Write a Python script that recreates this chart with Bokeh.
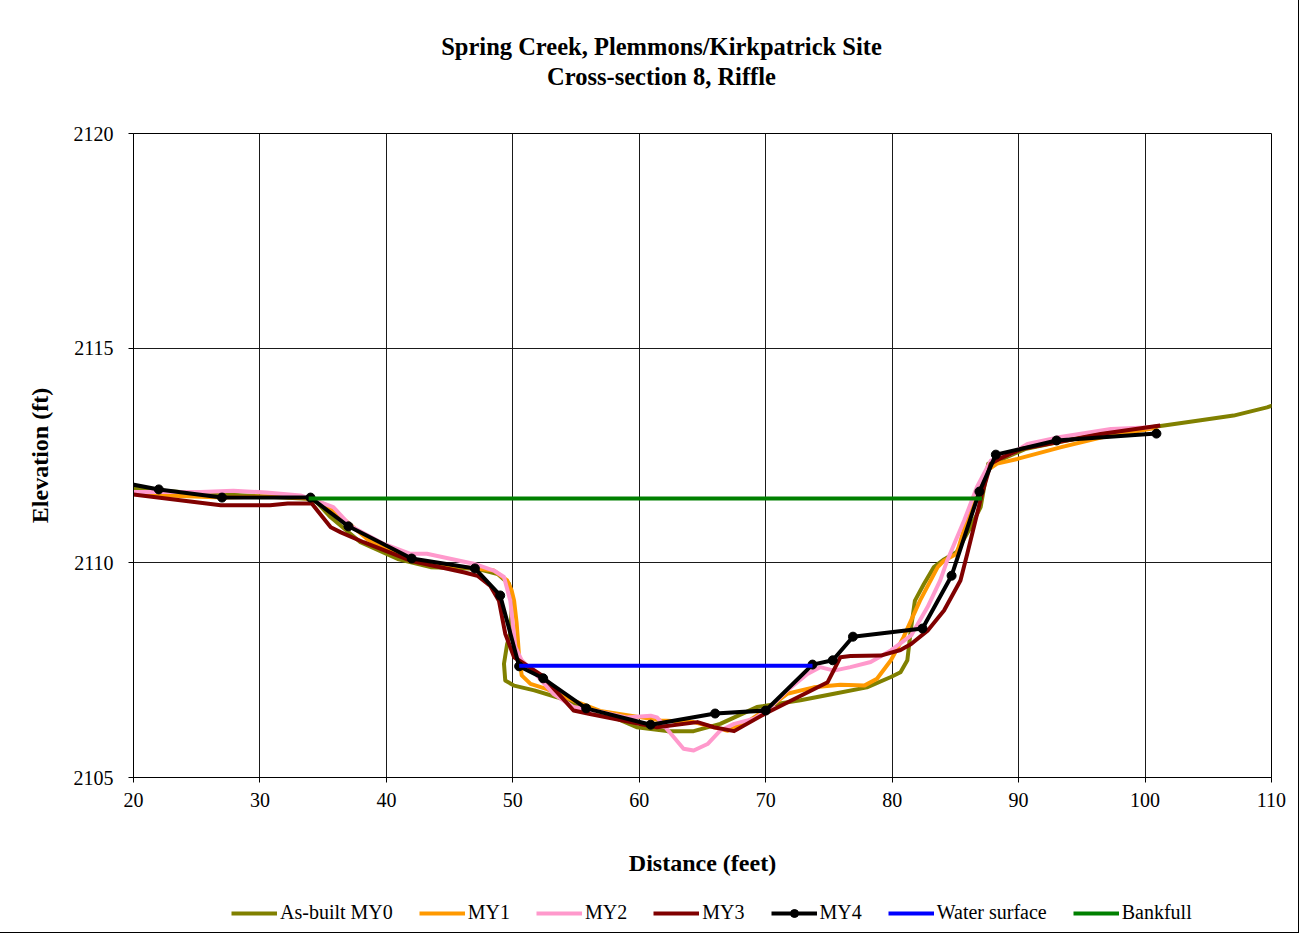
from bokeh.plotting import figure
from bokeh.layouts import column
from bokeh.models import Legend, LegendItem, FixedTicker, Range1d
from bokeh.core.properties import value
from bokeh.embed import file_html
from bokeh.resources import INLINE

# ---------------- data ----------------
title_lines = ["Spring Creek, Plemmons/Kirkpatrick Site", "Cross-section 8, Riffle"]
x_label = "Distance (feet)"
y_label = "Elevation (ft)"
x_ticks = [20, 30, 40, 50, 60, 70, 80, 90, 100, 110]
y_ticks = [2105, 2110, 2115, 2120]

my0_x = [20, 25, 30, 33.7, 34.5, 35.6, 37.95, 40.9, 43.5, 47.2, 48.8, 49.7, 49.95, 49.8, 49.55,
         49.3, 49.4, 50.1, 51.7, 53.5, 56.0, 58.0, 59.8, 62.2, 64.3, 66.4, 69.3, 72.75, 75.4, 78.0,
         79.9, 80.66, 81.2, 81.5, 81.8, 82.5, 83.3, 84.1, 85.1, 86.2, 87.0, 87.6, 88.6, 90.5, 93.0,
         96.5, 101.5, 104.4, 107.0, 109.65, 111.0]
my0_y = [2111.73, 2111.62, 2111.55, 2111.49, 2111.41, 2111.06, 2110.48, 2110.09, 2109.90, 2109.86,
         2109.74, 2109.51, 2109.12, 2108.35, 2108.11, 2107.65, 2107.26, 2107.14, 2107.03, 2106.87,
         2106.60, 2106.40, 2106.17, 2106.08, 2106.08, 2106.25, 2106.64, 2106.80, 2106.95, 2107.10,
         2107.34, 2107.45, 2107.73, 2108.50, 2109.12, 2109.50, 2109.90, 2110.08, 2110.25, 2110.83,
         2111.30, 2112.31, 2112.40, 2112.65, 2112.80, 2113.00, 2113.20, 2113.32, 2113.43, 2113.62,
         2113.76]

my1_x = [20, 22.6, 27, 31, 34, 35.2, 36.1, 36.9, 38.5, 41.9, 46.1, 48.5, 49.55, 49.9, 50.1, 50.3,
         50.5, 50.7, 51.4, 52.7, 54.8, 56.9, 61.7, 64.3, 67.0, 68.5, 70.1, 71.7, 73.8, 75.9, 77.8,
         78.8, 79.9, 80.9, 82.2, 83.6, 84.1, 85.1, 85.9, 86.7, 87.5, 88.3, 89.9, 93.3, 96.5, 101.0]
my1_y = [2111.63, 2111.57, 2111.52, 2111.55, 2111.50, 2111.35, 2111.14, 2110.95, 2110.55, 2110.05,
         2109.90, 2109.82, 2109.59, 2109.36, 2109.12, 2108.60, 2107.80, 2107.38, 2107.18, 2107.06,
         2106.79, 2106.55, 2106.33, 2106.29, 2106.09, 2106.29, 2106.60, 2106.95, 2107.10, 2107.16,
         2107.14, 2107.30, 2107.73, 2108.27, 2109.12, 2109.90, 2110.05, 2110.21, 2110.99, 2111.53,
         2112.15, 2112.31, 2112.42, 2112.69, 2112.92, 2113.15]

my2_x = [20, 25.3, 27.9, 30.5, 33.2, 34.8, 35.8, 37.2, 39.8, 41.9, 43.2, 46.9, 48.5, 49.3, 49.8,
         50.2, 50.7, 51.9, 53.2, 54.8, 56.4, 59.0, 60.9, 61.4, 62.5, 63.5, 64.3, 65.4, 66.4, 67.5,
         69.1, 70.1, 71.7, 73.3, 74.3, 75.4, 76.7, 78.3, 79.9, 81.5, 82.8, 83.8, 84.35, 85.7, 86.7,
         87.8, 89.4, 90.7, 93.3, 97.3, 100.5]
my2_y = [2111.65, 2111.65, 2111.68, 2111.64, 2111.57, 2111.41, 2111.30, 2110.85, 2110.44, 2110.21,
         2110.21, 2109.98, 2109.82, 2109.67, 2109.12, 2108.04, 2107.73, 2107.38, 2106.95, 2106.64,
         2106.56, 2106.40, 2106.44, 2106.40, 2106.02, 2105.67, 2105.63, 2105.78, 2106.09, 2106.25,
         2106.37, 2106.56, 2107.03, 2107.41, 2107.57, 2107.49, 2107.57, 2107.69, 2107.96, 2108.31,
         2108.97, 2109.59, 2110.05, 2110.99, 2111.76, 2112.38, 2112.54, 2112.77, 2112.93, 2113.12,
         2113.16]

my3_x = [20, 26.9, 30.8, 32.2, 34.1, 35.6, 36.4, 38.2, 41.9, 46.1, 47.2, 48.2, 48.9, 49.4, 50.1,
         50.9, 52.3, 54.8, 56.1, 61.4, 64.6, 65.9, 67.5, 69.9, 74.9, 75.9, 76.7, 79.1, 80.66, 81.5,
         82.8, 84.1, 85.4, 85.94, 87.1, 87.8, 88.6, 90.2, 96.5, 101.2]
my3_y = [2111.59, 2111.34, 2111.34, 2111.38, 2111.38, 2110.83, 2110.71, 2110.48, 2110.05, 2109.78,
         2109.70, 2109.47, 2109.12, 2108.35, 2107.80, 2107.65, 2107.38, 2106.56, 2106.48, 2106.17,
         2106.29, 2106.17, 2106.08, 2106.48, 2107.22, 2107.80, 2107.83, 2107.84, 2107.97, 2108.11,
         2108.42, 2108.89, 2109.59, 2110.21, 2111.60, 2112.31, 2112.44, 2112.65, 2113.00, 2113.20]

my4_x = [18, 22, 27, 34, 37, 42, 47, 49, 50.5, 52.4, 55.8, 60.9, 66, 70, 73.7, 75.3, 76.9, 82.4,
         84.7, 86.9, 88.2, 93, 100.9]
my4_y = [2111.93, 2111.71, 2111.52, 2111.52, 2110.85, 2110.10, 2109.87, 2109.24, 2107.59, 2107.31,
         2106.61, 2106.23, 2106.49, 2106.56, 2107.63, 2107.73, 2108.28, 2108.47, 2109.70, 2111.66,
         2112.52, 2112.85, 2113.01]

water_x = [50.5, 73.7]
water_y = [2107.6, 2107.6]
bankfull_x = [33.85, 87.1]
bankfull_y = [2111.5, 2111.5]

series_labels = ["As-built MY0", "MY1", "MY2", "MY3", "MY4", "Water surface", "Bankfull"]
series_colors = ["#808000", "#FF9900", "#FF99CC", "#800000", "#000000", "#0000FF", "#008000"]
series_xy = [(my0_x, my0_y), (my1_x, my1_y), (my2_x, my2_y), (my3_x, my3_y),
             (my4_x, my4_y), (water_x, water_y), (bankfull_x, bankfull_y)]

# ---------------- layout constants (pixels) ----------------
SERIF = "Liberation Serif"
W = 1298
FRAME_W, FRAME_H = 1138, 644
LEFT = 133
RIGHT = W - LEFT - FRAME_W
TITLE_H = 121        # title band; main plot adds 12px top border -> frame starts at 133
MAIN_TOP = 12
BOTTOM = 100
LEG_H = 54
LW = 4
TITLE_CX = 661 - LEFT          # title centre, measured from the (aligned) frame's left edge
TITLE_BASE = [46, 76]          # title baselines from the top of the band
LEG_POS = (231 - LEFT, 8)      # legend lower-left corner inside the legend band frame


def draw_series(fig):
    rends = []
    for (xs, ys), col, lab in zip(series_xy, series_colors, series_labels):
        r = fig.line(xs, ys, line_color=col, line_width=LW, line_join="round")
        group = [r]
        if lab == "MY4":
            group.append(fig.scatter(xs, ys, marker="circle", size=9,
                                     fill_color=col, line_color=col))
        rends.append(group)
    return rends


# ---------------- title band ----------------
tf = figure(width=W, height=TITLE_H, output_backend="svg", toolbar_location=None,
            x_range=Range1d(0, FRAME_W), y_range=Range1d(TITLE_H, 0),
            x_axis_type=None, y_axis_type=None, min_border=0)
tf.outline_line_color = None
tf.grid.visible = False
tf.text(x=[TITLE_CX, TITLE_CX], y=TITLE_BASE, text=title_lines, text_align="center",
        text_baseline="alphabetic", text_font=value(SERIF), text_font_size="24.5px",
        text_font_style="bold", text_color="black")

# ---------------- main plot ----------------
p = figure(frame_width=FRAME_W, frame_height=FRAME_H, output_backend="svg", toolbar_location=None,
           x_range=Range1d(20, 110), y_range=Range1d(2105, 2120),
           min_border_left=LEFT, min_border_right=RIGHT, min_border_top=MAIN_TOP,
           min_border_bottom=BOTTOM)
p.outline_line_color = "black"
p.outline_line_width = 1

for ax in (p.xaxis[0], p.yaxis[0]):
    ax.major_label_text_font = SERIF
    ax.major_label_text_font_size = "20px"
    ax.major_label_text_color = "black"
    ax.axis_label_text_font = SERIF
    ax.axis_label_text_font_size = "24px"
    ax.axis_label_text_font_style = "bold"
    ax.axis_label_text_color = "black"
    ax.axis_line_color = "black"
    ax.major_tick_line_color = "black"
    ax.major_tick_out = 5
    ax.major_tick_in = 0
    ax.minor_tick_line_color = None

p.xaxis.ticker = FixedTicker(ticks=x_ticks)
p.yaxis.ticker = FixedTicker(ticks=y_ticks)
p.xaxis.axis_label = x_label
p.yaxis.axis_label = y_label
p.xaxis.major_label_standoff = 10
p.yaxis.major_label_standoff = 15
p.xaxis.axis_label_standoff = 40
p.yaxis.axis_label_standoff = 18

p.grid.grid_line_color = "#1a1a1a"
p.grid.grid_line_width = 1
p.xgrid.ticker = FixedTicker(ticks=x_ticks)
p.ygrid.ticker = FixedTicker(ticks=y_ticks)

draw_series(p)

# ---------------- legend band ----------------
lf = figure(width=W, height=LEG_H, output_backend="svg", toolbar_location=None,
            x_range=Range1d(0, 1), y_range=Range1d(0, 1),
            x_axis_type=None, y_axis_type=None, min_border=0)
lf.outline_line_color = None
lf.grid.visible = False
leg_rends = draw_series(lf)   # drawn off-range: only their legend keys are visible

items = [LegendItem(label=lab, renderers=g) for lab, g in zip(series_labels, leg_rends)]
legend = Legend(items=items, orientation="horizontal", location=LEG_POS,
                label_text_font=SERIF, label_text_font_size="20px", label_text_color="black",
                glyph_width=46, glyph_height=20, label_standoff=3, spacing=26,
                border_line_color=None, background_fill_alpha=0, padding=4, margin=0)
lf.add_layout(legend, "center")

layout = column(tf, p, lf, spacing=0)
layout.styles = {"outline": "1px solid #000000"}

open("out.html", "w").write(file_html(layout, INLINE))
